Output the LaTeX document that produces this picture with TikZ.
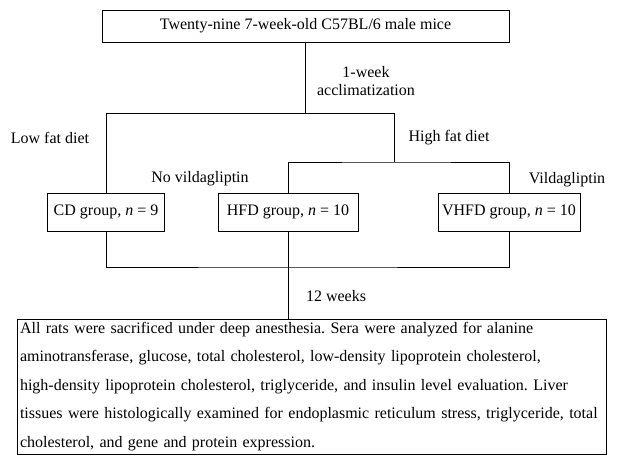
\documentclass[tikz,border=0pt]{standalone}
\usepackage{fontspec}
\setmainfont{Liberation Serif}
\frenchspacing
\begin{document}
\begin{tikzpicture}[x=1pt,y=-1pt,line width=0.8pt,
  caixa/.style={draw, inner sep=0pt, font=\fontsize{16}{19}\selectfont},
  rotulo/.style={inner sep=0pt, font=\fontsize{16}{19}\selectfont}]

\useasboundingbox (0,0) rectangle (617,462);

% CAIXA SUPERIOR
\node[caixa, minimum width=407, minimum height=32] (mice) at (305.5,26)
{Twenty-nine 7-week-old C57BL/6 male mice};

% GRUPOS
\node[caixa, minimum width=117, minimum height=38] (cd) at (106,212)
{CD group, \textit{n} = 9};
\node[caixa, minimum width=140, minimum height=38] (hfd) at (288,212)
{HFD group, \textit{n} = 10};
\node[caixa, minimum width=142, minimum height=38] (vhfd) at (509,212)
{VHFD group, \textit{n} = 10};

% CAIXA FINAL
\node[caixa, text width=583, inner xsep=3pt, minimum height=135, align=left,
  font=\fontsize{16}{28.5}\selectfont] (final) at (311.5,386.5)
{All rats were sacrificed under deep anesthesia. Sera were analyzed for alanine\\
aminotransferase, glucose, total cholesterol, low-density lipoprotein cholesterol,\\
high-density lipoprotein cholesterol, triglyceride, and insulin level evaluation. Liver\\
tissues were histologically examined for endoplasmic reticulum stress, triglyceride, total\\
cholesterol, and gene and protein expression.};

% PONTOS DE DIVISAO
\coordinate (acl) at (306,113);
\coordinate (hfsplit) at (394,162);
\coordinate (merge) at (288,267);

% LIGACOES
\draw (mice.south) -- (mice.south |- acl);
\draw (cd.north) |- (hfsplit |- acl) -- (hfsplit);
\draw (hfd.north) |- (hfsplit) -| (vhfd.north);
\draw (cd.south) |- (merge) -| (vhfd.south);
\draw (hfd.south) -- (hfd.south |- final.north);

% ROTULOS
\node[rotulo, align=center, font=\fontsize{16}{18}\selectfont] (semana) at (366,81)
{1-week\\acclimatization};
\node[rotulo] (baixa) at (50,138) {Low fat diet};
\node[rotulo] (alta) at (449,138) {High fat diet};
\node[rotulo] (semvilda) at (200,179) {No vildagliptin};
\node[rotulo] (vilda) at (567,180) {Vildagliptin};
\node[rotulo] (doze) at (336,296) {12 weeks};

\end{tikzpicture}
\end{document}
